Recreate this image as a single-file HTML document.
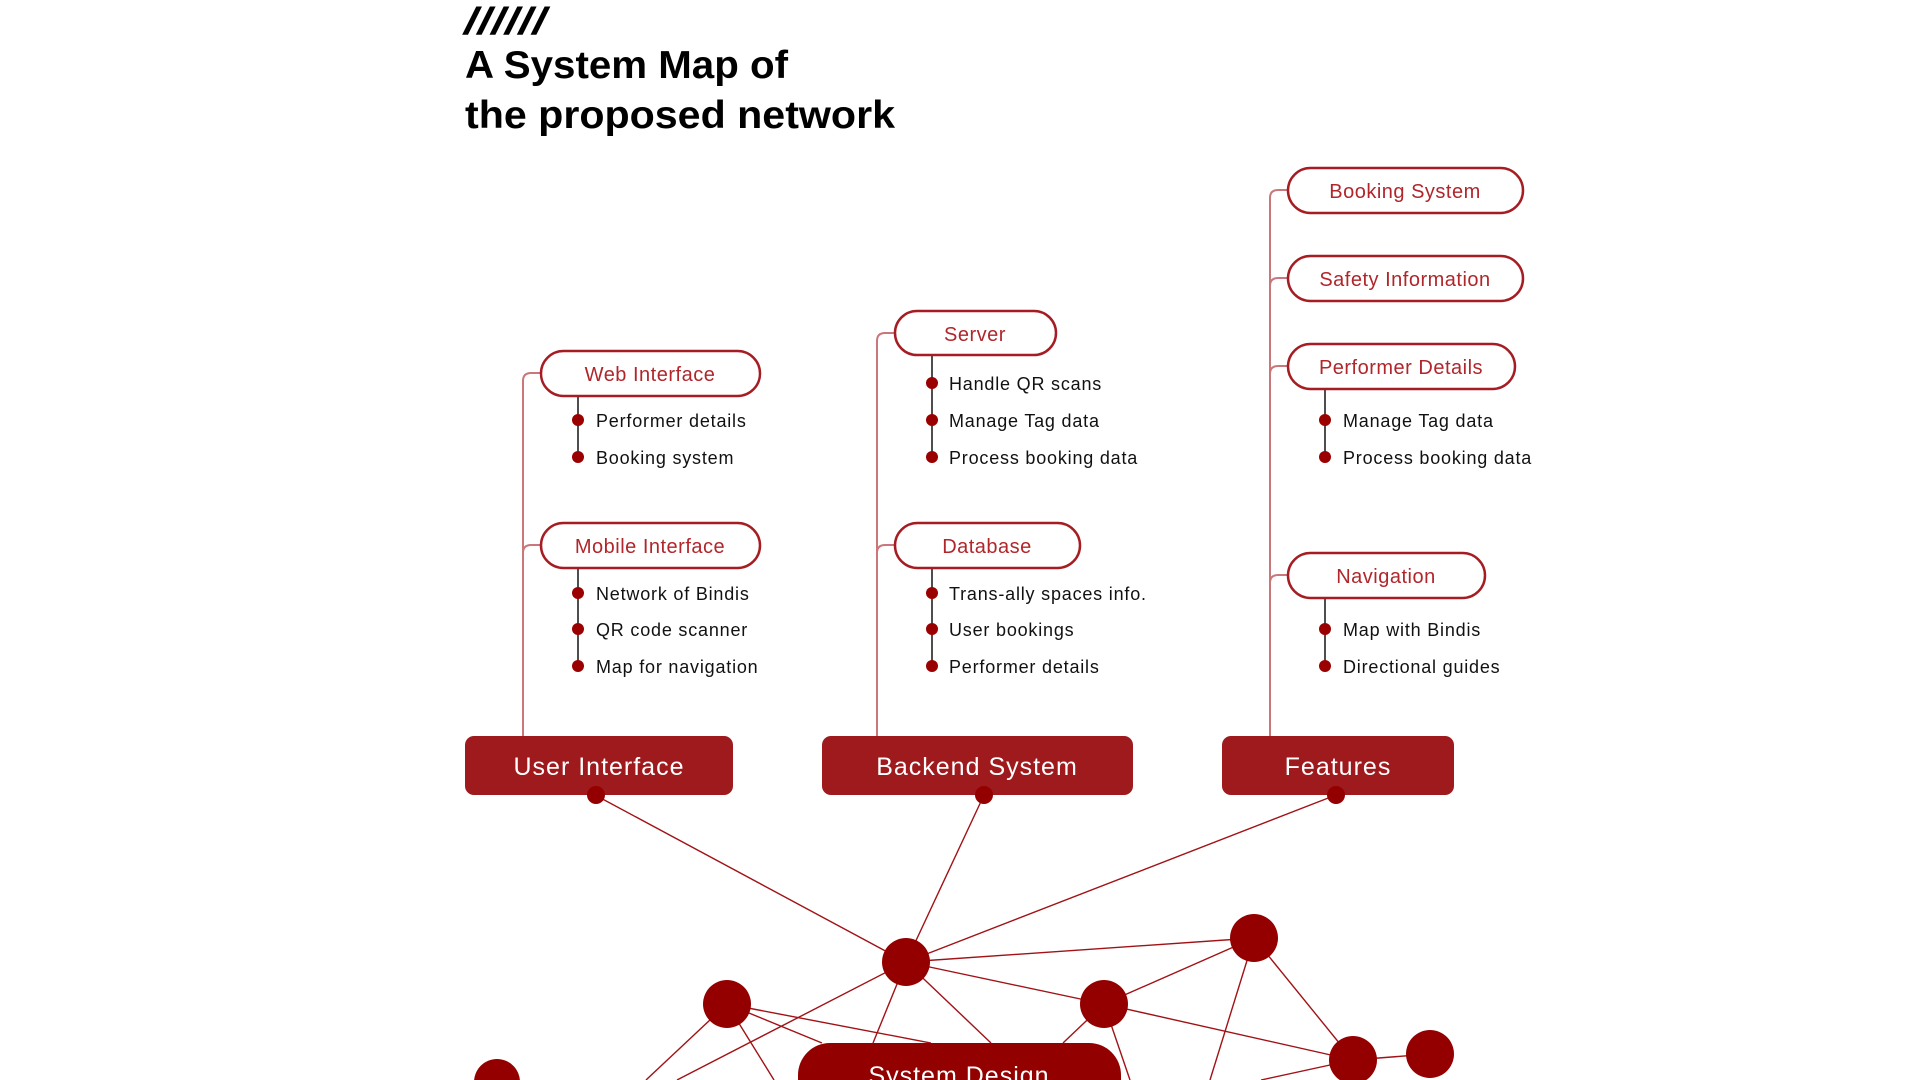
<!DOCTYPE html>
<html><head><meta charset="utf-8"><style>
html,body{margin:0;padding:0;background:#fff;width:1920px;height:1080px;overflow:hidden}
svg{display:block}
.pill{fill:#fff;stroke:#a51d22;stroke-width:2.5}
.pt{font-family:"Liberation Sans",sans-serif;font-size:20px;fill:#b0262b;text-anchor:middle;letter-spacing:0.5px}
.bt{font-family:"Liberation Sans",sans-serif;font-size:18px;fill:#111;letter-spacing:0.8px}
.br{fill:none;stroke:#c9777a;stroke-width:2}
.st{stroke:#222;stroke-width:1.6}
.bd{fill:#9a0000}
.box{fill:#9e1a1d}
.bx{font-family:"Liberation Sans",sans-serif;font-size:25px;fill:#fff;text-anchor:middle;letter-spacing:1px}
.ln{stroke:#a01216;stroke-width:1.4}
.nd{fill:#940000}
</style></head><body>
<svg width="1920" height="1080" viewBox="0 0 1920 1080" xmlns="http://www.w3.org/2000/svg">
<text x="464" y="34" font-family="Liberation Sans,sans-serif" font-size="38" font-weight="bold" font-style="italic" textLength="82" lengthAdjust="spacingAndGlyphs">//////</text>
<text x="465" y="78" font-family="Liberation Sans,sans-serif" font-size="39" font-weight="bold" textLength="323" lengthAdjust="spacingAndGlyphs">A System Map of</text>
<text x="465" y="128" font-family="Liberation Sans,sans-serif" font-size="39" font-weight="bold" textLength="430" lengthAdjust="spacingAndGlyphs">the proposed network</text>

<g class="ln">
<line x1="595" y1="795" x2="906" y2="962"/>
<line x1="984" y1="795" x2="906" y2="962"/>
<line x1="1336" y1="795" x2="906" y2="962"/>
<line x1="906" y1="962" x2="1254" y2="938"/>
<line x1="906" y1="962" x2="1104" y2="1004"/>
<line x1="906" y1="962" x2="677" y2="1080"/>
<line x1="906" y1="962" x2="873" y2="1043"/>
<line x1="906" y1="962" x2="991" y2="1043"/>
<line x1="727" y1="1004" x2="931" y2="1043"/>
<line x1="727" y1="1004" x2="822" y2="1043"/>
<line x1="727" y1="1004" x2="646" y2="1080"/>
<line x1="727" y1="1004" x2="774" y2="1080"/>
<line x1="1104" y1="1004" x2="1063" y2="1043"/>
<line x1="1104" y1="1004" x2="1130" y2="1080"/>
<line x1="1104" y1="1004" x2="1353" y2="1060"/>
<line x1="1104" y1="1004" x2="1254" y2="938"/>
<line x1="1254" y1="938" x2="1210" y2="1080"/>
<line x1="1254" y1="938" x2="1353" y2="1060"/>
<line x1="1353" y1="1060" x2="1430" y2="1054"/>
<line x1="1353" y1="1060" x2="1261" y2="1080"/>
</g>
<g class="nd">
<ellipse cx="906" cy="962" rx="24" ry="24"/>
<ellipse cx="727" cy="1004" rx="24" ry="24"/>
<ellipse cx="1104" cy="1004" rx="24" ry="24"/>
<ellipse cx="1254" cy="938" rx="24" ry="24"/>
<ellipse cx="1353" cy="1060" rx="24" ry="24"/>
<ellipse cx="1430" cy="1054" rx="24" ry="24"/>
<ellipse cx="497" cy="1082" rx="23" ry="23"/>
</g>
<rect x="798" y="1043" width="323" height="80" rx="32" fill="#930000"/>
<text x="959" y="1084" class="bx" font-size="26">System Design</text>

<path class="br" d="M523 736 V381 Q523 373 531 373 H541"/>
<path class="br" d="M523 553 Q523 545 531 545 H541"/>
<path class="br" d="M877 736 V341 Q877 333 885 333 H895"/>
<path class="br" d="M877 553 Q877 545 885 545 H895"/>
<path class="br" d="M1270 736 V198 Q1270 190 1278 190 H1288"/>
<path class="br" d="M1270 286 Q1270 278 1278 278 H1288"/>
<path class="br" d="M1270 374 Q1270 366 1278 366 H1288"/>
<path class="br" d="M1270 583 Q1270 575 1278 575 H1288"/>

<line class="st" x1="578" y1="396" x2="578" y2="457"/>
<line class="st" x1="578" y1="567" x2="578" y2="666"/>
<line class="st" x1="932" y1="355" x2="932" y2="457"/>
<line class="st" x1="932" y1="567" x2="932" y2="666"/>
<line class="st" x1="1325" y1="389" x2="1325" y2="457"/>
<line class="st" x1="1325" y1="598" x2="1325" y2="666"/>

<rect class="pill" x="541" y="351" width="219" height="45" rx="22.5"/><text class="pt" x="650" y="381">Web Interface</text>
<rect class="pill" x="541" y="523" width="219" height="45" rx="22.5"/><text class="pt" x="650" y="553">Mobile Interface</text>
<rect class="pill" x="895" y="311" width="161" height="44" rx="22"/><text class="pt" x="975" y="341">Server</text>
<rect class="pill" x="895" y="523" width="185" height="45" rx="22.5"/><text class="pt" x="987" y="553">Database</text>
<rect class="pill" x="1288" y="168" width="235" height="45" rx="22.5"/><text class="pt" x="1405" y="198">Booking System</text>
<rect class="pill" x="1288" y="256" width="235" height="45" rx="22.5"/><text class="pt" x="1405" y="286">Safety Information</text>
<rect class="pill" x="1288" y="344" width="227" height="45" rx="22.5"/><text class="pt" x="1401" y="374">Performer Details</text>
<rect class="pill" x="1288" y="553" width="197" height="45" rx="22.5"/><text class="pt" x="1386" y="583">Navigation</text>

<g class="bd">
<circle cx="578" cy="420" r="6"/><circle cx="578" cy="457" r="6"/>
<circle cx="578" cy="593" r="6"/><circle cx="578" cy="629" r="6"/><circle cx="578" cy="666" r="6"/>
<circle cx="932" cy="383" r="6"/><circle cx="932" cy="420" r="6"/><circle cx="932" cy="457" r="6"/>
<circle cx="932" cy="593" r="6"/><circle cx="932" cy="629" r="6"/><circle cx="932" cy="666" r="6"/>
<circle cx="1325" cy="420" r="6"/><circle cx="1325" cy="457" r="6"/>
<circle cx="1325" cy="629" r="6"/><circle cx="1325" cy="666" r="6"/>
</g>
<g class="bt">
<text x="596" y="427">Performer details</text>
<text x="596" y="464">Booking system</text>
<text x="596" y="600">Network of Bindis</text>
<text x="596" y="636">QR code scanner</text>
<text x="596" y="673">Map for navigation</text>
<text x="949" y="390">Handle QR scans</text>
<text x="949" y="427">Manage Tag data</text>
<text x="949" y="464">Process booking data</text>
<text x="949" y="600">Trans-ally spaces info.</text>
<text x="949" y="636">User bookings</text>
<text x="949" y="673">Performer details</text>
<text x="1343" y="427">Manage Tag data</text>
<text x="1343" y="464">Process booking data</text>
<text x="1343" y="636">Map with Bindis</text>
<text x="1343" y="673">Directional guides</text>
</g>

<rect class="box" x="465" y="736" width="268" height="59" rx="9"/><text class="bx" x="599" y="775">User Interface</text>
<rect class="box" x="822" y="736" width="311" height="59" rx="9"/><text class="bx" x="977" y="775">Backend System</text>
<rect class="box" x="1222" y="736" width="232" height="59" rx="9"/><text class="bx" x="1338" y="775">Features</text>
<g class="nd">
<ellipse cx="596" cy="795" rx="9" ry="9"/>
<ellipse cx="984" cy="795" rx="9" ry="9"/>
<ellipse cx="1336" cy="795" rx="9" ry="9"/>
</g>
</svg>
</body></html>
